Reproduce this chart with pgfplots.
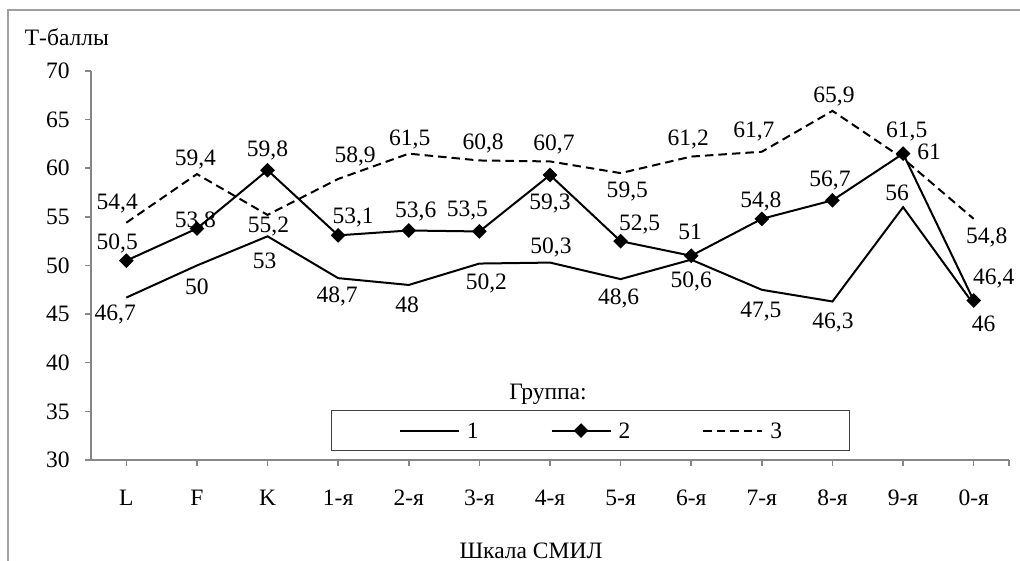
\documentclass[border=0pt]{standalone}
\usepackage{fontspec}
\setmainfont{Liberation Serif}
\usepackage{pgfplots}
\usepackage{pgfplotstable}
\pgfplotsset{compat=1.18}
\definecolor{axgray}{RGB}{134,134,134}
\definecolor{framegray}{RGB}{160,160,160}

% x = scale position, y = T-score, lbl = data label, xs/ys = label offset (bp)
\pgfplotstableread{
x y lbl xs ys
0 46.7 46,7 -5.5 -7.75
1 50 50 0 -10.5
2 53 53 -1.5 -12.2
3 48.7 48,7 -0.5 -8.5
4 48 48 -0.8 -10
5 50.2 50,2 3.5 -9
6 50.3 50,3 0.5 8.5
7 48.6 48,6 -1 -8.85
8 50.6 50,6 0 -10
9 47.5 47,5 -0.5 -9.75
10 46.3 46,3 0.25 -9.5
11 56 56 -3 7.25
12 46 46 5 -9.5
}\groupone
\pgfplotstableread{
x y lbl xs ys
0 50.5 50,5 -4.5 9.5
1 53.8 53,8 -0.8 4.5
2 59.8 59,8 0 11
3 53.1 53,1 7.5 10
4 53.6 53,6 3.5 10.25
5 53.5 53,5 -6 11.5
6 59.3 59,3 0 -13.5
7 52.5 52,5 9.5 9.25
8 51 51 -0.5 12
9 54.8 54,8 -0.5 9.5
10 56.7 56,7 -1.25 11
11 61.5 61,5 1.8 11.85
12 46.4 46,4 10 12
}\grouptwo
\pgfplotstableread{
x y lbl xs ys
0 54.4 54,4 -4.5 10.5
1 59.4 59,4 -0.8 8
2 55.2 55,2 0.5 -5
3 58.9 58,9 8.5 12
4 61.5 61,5 0.5 7.75
5 60.8 60,8 1.85 9.5
6 60.7 60,7 2 9.5
7 59.5 59,5 3.35 -8.25
8 61.2 61,2 -1.5 9.5
9 61.7 61,7 -4 11
10 65.9 65,9 0.75 8.3
11 61 61 13 3.5
12 54.8 54,8 6.5 -8.5
}\groupthree

\begin{document}
\begin{tikzpicture}[font=\fontsize{11.8}{14}\selectfont]
\useasboundingbox (0,0) rectangle (510bp,280.5bp);
\draw[framegray, line width=0.75bp] (4bp,0) -- (4bp,275.5bp) -- (510bp,275.5bp);
\begin{axis}[
  at={(45.5bp,50.5bp)}, anchor=south west,
  scale only axis, width=459bp, height=194.5bp,
  xmin=-0.5, xmax=12.5, ymin=30, ymax=70,
  xtick={0,...,12},
  xticklabels={L,F,K,1-я,2-я,3-я,4-я,5-я,6-я,7-я,8-я,9-я,0-я},
  extra x ticks={12.5}, extra x tick labels={},
  ytick={30,35,...,70},
  axis x line*=bottom, axis y line*=left,
  axis line style={draw=axgray, line width=0.75bp},
  tick style={draw=axgray, line width=0.75bp},
  tick align=outside,
  major tick length=3bp,
  /pgf/number format/assume math mode=true,
  font=\fontsize{11.8}{14}\selectfont,
  yticklabel style={anchor=east, inner sep=0pt, xshift=-7.5bp},
  xticklabel style={anchor=base, inner sep=0pt, yshift=-19.75bp},
  xlabel={Шкала СМИЛ},
  xlabel style={at={(axis description cs:0.4793,-0.234)}, anchor=center, inner sep=0pt},
  ylabel={Т-баллы},
  ylabel style={rotate=-90, at={(axis description cs:-0.0725,1.0874)}, anchor=west, inner sep=0pt},
  clip=false,
  point meta=explicit symbolic,
  visualization depends on={\thisrow{xs} \as \xs},
  visualization depends on={\thisrow{ys} \as \ys},
  nodes near coords,
  every node near coord/.append style={anchor=center, inner sep=0pt,
    text depth=0pt, black, xshift=\xs bp, yshift=\ys bp},
  legend columns=3,
  legend image code/.code={\draw[mark repeat=2,mark phase=2,#1]
    plot coordinates {(0bp,0bp) (14.75bp,0bp) (29.5bp,0bp)};},
  legend style={at={(0.5441,0.0758)}, anchor=center,
    draw=black!75, line width=0.5bp, inner xsep=33.5bp, inner ysep=6bp,
    nodes={inner sep=0pt, text depth=0pt},
    /tikz/every odd column/.append style={column sep=3.5bp},
    /tikz/every even column/.append style={column sep=36bp}},
]
\addplot[black, line width=1bp] table[x=x, y=y, meta=lbl] {\groupone};
\addplot[black, line width=1bp, mark=square*, mark size=2.1bp,
  mark options={rotate=45, solid}] table[x=x, y=y, meta=lbl] {\grouptwo};
\addplot[black, line width=1bp, dash pattern=on 4.25bp off 2.5bp]
  table[x=x, y=y, meta=lbl] {\groupthree};
\legend{1,2,3}
\node at (axis description cs:0.4978,0.1697) {Группа:};
\end{axis}
\end{tikzpicture}
\end{document}
